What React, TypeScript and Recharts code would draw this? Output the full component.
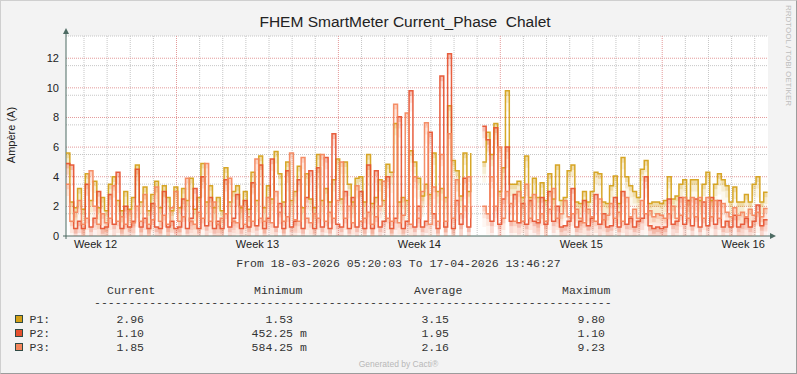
import React from 'react';
import * as RC from 'recharts';
import { ComposedChart, Area, Line, XAxis, YAxis, CartesianGrid, Customized } from 'recharts';

// time axis: days since Mon 16-03-2026 00:00, 4h consolidation steps
const T0 = 2 + 5.3342 / 24; // 18-03-2026 05:20:03
const T_END = 32 + 13.774 / 24; // 17-04-2026 13:46:27
const STEP = 4 / 24;

const weekTicks = [3.5, 10.5, 17.5, 24.5, 31.5];
const weekLabels = ['Week 12', 'Week 13', 'Week 14', 'Week 15', 'Week 16'];
const yTicks = [0, 2, 4, 6, 8, 10, 12];

// P1 (A)
const p1: (number | null)[] = [
  5.6, 2.3, 1.9, 3.2, 1.8, 4.2, 2.4, 3.7, 1.9, 2.6, 1.7, 3.5, 4.0, 2.4, 1.7,
  3.0, 1.8, 2.6, 4.8, 2.3, 3.3, 1.7, 2.8, 3.7, 1.9, 3.4, 2.6, 1.7, 3.3,
  1.9, 3.2, 2.4, 3.9, 1.8, 2.6, 4.9, 2.3, 3.4, 1.9, 2.6, 1.7, 4.6, 2.3, 3.0,
  3.4, 1.9, 3.0, 1.8, 4.3, 2.4, 5.4, 1.9, 3.4, 2.5, 5.7, 4.2, 2.3, 5.0, 2.4,
  3.0, 4.7, 1.9, 4.2, 2.5, 1.9, 5.5, 2.4, 3.2, 2.3, 3.8, 5.2,
  2.5, 5.0, 3.5, 2.3, 3.9, 4.0, 2.3, 5.5, 2.2, 2.6, 3.8, 2.4, 4.85, 4.3, 7.6,
  2.3, 2.6, 2.4, 5.75, 5.0, 3.9, 2.7, 3.5, 2.8, 5.6, 3.0, 3.2, 2.6, 8.8, 5.1,
  4.4, 2.7, 5.6, 3.0, 5.6,
  null, null,
  5.0, 7.0, 5.5, 7.6, 3.0, 4.6, 9.8, 3.5, 3.5, 3.7, 2.6, 5.4, 2.6, 3.9, 2.6,
  3.6, 2.4, 4.2, 2.5, 4.8, 2.4, 2.6, 4.4, 4.8, 2.3, 2.2, 3.0, 2.3, 3.0, 4.3,
  4.2, 2.3, 2.2,
  3.4, 4.05, 2.2, 5.3, 4.0, 3.4, 3.0, 2.6, 4.5, 5.1, 2.2, 2.3, 2.3, 2.2, 2.4,
  4.0, 2.5, 2.7, 3.5, 3.8, 2.4, 3.8, 3.8, 2.4, 3.5, 4.3, 2.4, 3.5, 4.2, 3.8,
  3.4, 2.3, 3.3, 2.3, 2.3, 2.8, 2.3, 3.5, 4.0, 2.3, 2.96, 2.96,
];

// P2 (A)
const p2: (number | null)[] = [
  4.9, 4.8, 0.5, 1.0, 0.5, 3.5, 0.6, 1.2, 3.0, 0.5, 0.6, 2.8, 0.8, 4.3, 0.5,
  2.0, 0.6, 1.0, 4.5, 0.6, 1.2, 0.5, 2.2, 0.6, 0.5, 3.0, 0.6, 1.0, 0.5,
  0.6, 2.5, 0.5, 1.2, 3.2, 0.5, 4.0, 0.7, 2.6, 0.5, 1.0, 0.5, 3.8, 0.6, 1.2,
  2.8, 0.5, 2.4, 0.6, 3.6, 0.7, 4.8, 0.5, 1.2, 5.2, 0.6, 2.2, 0.5, 4.4, 0.6,
  1.0, 3.8, 0.5, 2.6, 4.4, 0.5, 4.6, 0.6, 5.3, 0.5, 6.9, 0.8,
  0.6, 3.0, 0.5, 2.6, 0.6, 3.0, 0.5, 4.8, 0.5, 4.4, 0.6, 1.0, 4.0, 0.5, 1.2,
  8.05, 0.5, 1.0, 9.8, 0.6, 2.0, 0.6, 1.0, 7.0, 1.5, 0.5, 10.8, 0.6, 12.3, 0.5,
  2.4, 0.8, 3.9, 0.6, 2.0,
  null, null,
  7.4, 6.5, 1.0, 7.3, 0.8, 2.5, 6.0, 1.0, 2.8, 0.9, 2.2, 0.8, 2.4, 1.0, 0.9,
  2.6, 0.8, 3.0, 1.0, 2.0, 0.6, 0.7, 1.0, 3.2, 0.6, 1.0, 2.4, 0.7, 1.2, 2.8,
  0.8, 1.5, 0.6,
  0.7, 2.6, 0.6, 3.0, 0.8, 1.2, 0.6, 1.0, 1.2, 4.0, 0.7, 0.5, 0.6, 0.5, 0.6,
  2.5, 0.8, 1.0, 2.6, 0.8, 2.4, 0.7, 2.5, 0.6, 2.3, 0.7, 2.6, 0.8, 2.4, 0.6,
  1.0, 0.6, 1.4, 0.6, 0.8, 1.2, 0.6, 1.0, 2.1, 0.7, 1.1, 1.1,
];

// P3 (A)
const p3: (number | null)[] = [
  3.5, 1.0, 1.6, 2.4, 0.8, 1.2, 4.4, 2.0, 0.8, 1.5, 0.9, 1.2, 3.4, 1.0, 1.3,
  0.8, 1.7, 0.9, 2.0, 1.0, 2.8, 0.8, 1.1, 3.3, 1.0, 1.4, 0.8, 1.9, 3.0,
  1.0, 1.3, 3.9, 1.0, 0.8, 1.6, 1.2, 4.9, 1.0, 2.3, 0.8, 1.2, 1.5, 3.9, 1.0,
  0.9, 2.0, 0.8, 1.3, 1.0, 5.2, 1.2, 1.0, 2.6, 0.9, 3.0, 1.6, 1.0, 1.3, 5.6,
  1.1, 1.0, 5.3, 1.2, 0.9, 1.5, 1.2, 5.5, 1.0, 1.6, 1.2, 2.4,
  5.0, 1.2, 2.0, 0.9, 3.4, 1.0, 1.2, 1.6, 0.8, 1.3, 2.0, 3.7, 1.2, 1.0, 8.9,
  0.9, 1.4, 8.3, 0.8, 4.0, 1.2, 3.0, 7.65, 0.8, 3.3, 1.0, 5.5, 1.0, 6.9, 1.2,
  3.8, 1.5, 2.0, 4.0, 1.2,
  null, null,
  2.0, 1.5, 4.0, 2.0, 6.0, 1.2, 3.0, 2.2, 1.0, 3.0, 1.0, 3.5, 1.2, 2.8, 1.1,
  1.5, 1.0, 1.8, 3.2, 1.2, 1.5, 2.4, 1.3, 1.5, 1.8, 1.2, 0.9, 1.8, 1.3, 1.0,
  2.5, 1.1, 1.4,
  2.2, 1.2, 1.6, 1.0, 2.6, 1.3, 1.8, 1.2, 2.4, 1.5, 1.7, 1.3, 1.5, 1.4, 1.2,
  1.5, 2.0, 1.2, 1.4, 2.6, 1.2, 2.6, 1.3, 2.6, 1.2, 2.6, 1.3, 2.4, 1.2, 2.2,
  1.6, 1.3, 1.9, 1.4, 1.6, 1.3, 1.8, 1.4, 1.6, 1.3, 1.85, 1.85,
];

// legend statistics: current, minimum, average, maximum
const seriesNames = ['P1', 'P2', 'P3'];
const seriesColors = ['#D4A017', '#E6512F', '#F4865C'];
const statCurrent = [2.96, 1.10, 1.85];
const statMinimum = [1.53, 0.45225, 0.58425];
const statAverage = [3.15, 1.95, 2.16];
const statMaximum = [9.80, 1.10, 9.23];
const statHeaders = ['Current', 'Minimum', 'Average', 'Maximum'];

const AXIS = '#4d6b63';
const SANS = '"Liberation Sans", Arial, sans-serif';
const MONO = '"Liberation Mono", "DejaVu Sans Mono", monospace';

const rows = p1.map((v, i) => ({ t: T0 + i * STEP, p1: v, p2: p2[i], p3: p3[i] }));

// gradient tail under each line, made of a few translucent bands (value units below the line)
const tailBands = [
  { from: 0, to: 0.35, opacity: 0.38 },
  { from: 0.35, to: 0.8, opacity: 0.2 },
  { from: 0.8, to: 1.4, opacity: 0.08 },
];
const bandKey = (k: string, b: { from: number; to: number }) => (d: any) => {
  const v = d[k];
  if (v == null) return null;
  return [Math.max(v - b.to, 0), Math.max(v - b.from, 0)];
};

const minorY = Array.from({ length: 27 }, (_, k) => (k + 1) * 0.5).filter((v) => v % 2 !== 0);
const majorY = [2, 4, 6, 8, 10, 12];
const days = Array.from({ length: 30 }, (_, k) => k + 3);
const majorX = [7, 14, 21, 28];
const minorX = days.filter((d) => !majorX.includes(d));

const usePA: () => any = (RC as any).usePlotArea || (() => null);

const AxisArrows = () => {
  const pa = usePA() || { x: 66, y: 36, width: 702, height: 200 };
  const bottom = pa.y + pa.height;
  const right = pa.x + pa.width;
  return (
    <g>
      <line x1={pa.x} y1={bottom + 3} x2={pa.x} y2={pa.y - 3} stroke={AXIS} strokeWidth={1} />
      <polygon points={`${pa.x - 3},${pa.y - 2} ${pa.x + 3},${pa.y - 2} ${pa.x},${pa.y - 8}`} fill={AXIS} />
      <line x1={pa.x - 3} y1={bottom} x2={right + 3} y2={bottom} stroke={AXIS} strokeWidth={1} />
      <polygon points={`${right + 2},${bottom - 3} ${right + 2},${bottom + 3} ${right + 8},${bottom}`} fill={AXIS} />
    </g>
  );
};

const fmtSi = (v: number) => (v < 1 ? { n: (v * 1000).toFixed(2), u: 'm' } : { n: v.toFixed(2), u: '' });

const colEnds = [144, 293, 449, 605];
const colStarts = [107, 254, 414, 562];
const rowY = [319, 333, 347];
const CH = 6.9;
const keys = ['p1', 'p2', 'p3'];

const App = () => {
  const stats = [statCurrent, statMinimum, statAverage, statMaximum];
  return (
    <div style={{ position: 'absolute', left: 0, top: 0, width: 797, height: 374, background: '#f3f3f3' }}>
      <ComposedChart
        width={797}
        height={374}
        data={rows}
        margin={{ top: 36, right: 29, bottom: 118, left: 36 }}
        style={{ position: 'absolute', left: 0, top: 0 }}
      >
        <CartesianGrid
          fill="#ffffff"
          stroke="#c6c6c6"
          strokeDasharray="1 1"
          horizontalValues={minorY}
          verticalValues={minorX}
        />
        <CartesianGrid
          stroke="#e49a9a"
          strokeDasharray="1 1"
          horizontalValues={majorY}
          verticalValues={majorX}
        />
        <XAxis
          dataKey="t"
          type="number"
          domain={[T0, T_END]}
          allowDataOverflow
          ticks={weekTicks}
          tickFormatter={(v: number) => weekLabels[weekTicks.indexOf(v)]}
          tickLine={false}
          axisLine={false}
          tickSize={0}
          tickMargin={4}
          height={20}
          tick={{ fontSize: 11, fill: '#222', fontFamily: SANS }}
        />
        <YAxis
          type="number"
          domain={[0, 13.5]}
          allowDataOverflow
          ticks={yTicks}
          tickLine={false}
          axisLine={false}
          tickSize={0}
          tickMargin={7}
          width={30}
          tick={{ fontSize: 11, fill: '#222', fontFamily: SANS }}
        />
        {keys.map((k, i) =>
          tailBands.map((b, j) => (
            <Area
              key={`a${k}${j}`}
              dataKey={bandKey(k, b)}
              type="stepAfter"
              stroke="none"
              fill={seriesColors[i]}
              fillOpacity={b.opacity}
              isAnimationActive={false}
              connectNulls={false}
              activeDot={false}
            />
          ))
        )}
        {keys.map((k, i) => (
          <Line
            key={`l${k}`}
            dataKey={k}
            type="stepAfter"
            stroke={seriesColors[i]}
            strokeWidth={1.5}
            strokeOpacity={0.92}
            dot={false}
            activeDot={false}
            isAnimationActive={false}
            connectNulls={false}
          />
        ))}
        <Customized component={<AxisArrows />} />
      </ComposedChart>

      <svg width={797} height={374} style={{ position: 'absolute', left: 0, top: 0, pointerEvents: 'none' }}>
        <text x={405} y={21} textAnchor="middle" dominantBaseline="central" fontFamily={SANS} fontSize={15.5} fill="#222" style={{ whiteSpace: 'pre' }}>
          FHEM SmartMeter Current_Phase  Chalet
        </text>
        <text transform="translate(10.5,135) rotate(-90)" textAnchor="middle" dominantBaseline="central" fontFamily={SANS} fontSize={11} fill="#222">
          Ampère (A)
        </text>
        <text transform="translate(788,5) rotate(90)" textAnchor="start" dominantBaseline="central" fontFamily={SANS} fontSize={8} fill="#bdbdbd">
          RRDTOOL / TOBI OETIKER
        </text>
        <text x={398.5} y={263} textAnchor="middle" dominantBaseline="central" fontFamily={MONO} fontSize={11.5} fill="#333">
          From 18-03-2026 05:20:03 To 17-04-2026 13:46:27
        </text>
        {statHeaders.map((h, i) => (
          <text key={h} x={colStarts[i]} y={290} dominantBaseline="central" fontFamily={MONO} fontSize={11.5} fill="#333">
            {h}
          </text>
        ))}
        <text x={94} y={302} dominantBaseline="central" fontFamily={MONO} fontSize={11.5} fill="#333">
          {'-'.repeat(75)}
        </text>
        {seriesNames.map((name, r) => (
          <g key={name}>
            <rect x={15.5} y={rowY[r] - 3.5} width={7} height={7} fill={seriesColors[r]} stroke="#2f4a44" strokeWidth={1} />
            <text x={29.5} y={rowY[r]} dominantBaseline="central" fontFamily={MONO} fontSize={11.5} fill="#333">
              {name + ':'}
            </text>
            {stats.map((col, c) => {
              const f = fmtSi(col[r]);
              return (
                <g key={c}>
                  <text x={colEnds[c]} y={rowY[r]} textAnchor="end" dominantBaseline="central" fontFamily={MONO} fontSize={11.5} fill="#333">
                    {f.n}
                  </text>
                  {f.u && (
                    <text x={colEnds[c] + CH} y={rowY[r]} dominantBaseline="central" fontFamily={MONO} fontSize={11.5} fill="#333">
                      {f.u}
                    </text>
                  )}
                </g>
              );
            })}
          </g>
        ))}
        <text x={398.5} y={364} textAnchor="middle" dominantBaseline="central" fontFamily={SANS} fontSize={8.5} fill="#b8b8b8">
          Generated by Cacti®
        </text>
      </svg>
      <div style={{ position: 'absolute', left: 0, top: 0, width: 797, height: 374, boxSizing: 'border-box', borderTop: '1px solid #cfcfcf', borderLeft: '1px solid #cfcfcf', borderRight: '1px solid #9c9c9c', borderBottom: '1px solid #9c9c9c', pointerEvents: 'none' }} />
    </div>
  );
};

export default App;
